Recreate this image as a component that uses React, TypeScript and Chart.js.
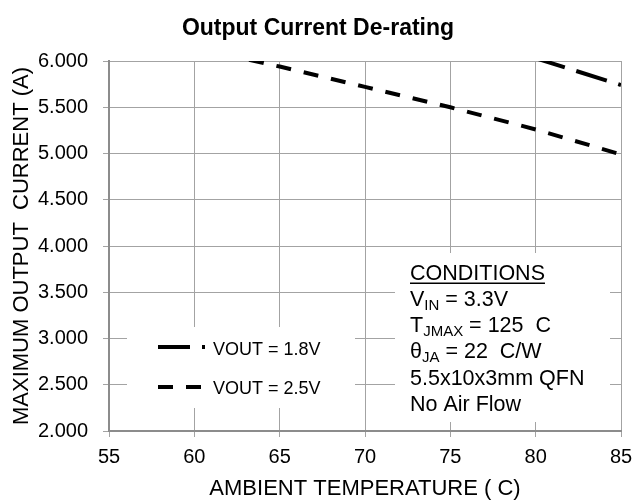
import React, { useEffect, useRef } from 'react';
import { Chart, registerables } from 'chart.js';

Chart.register(...registerables);

// ---- data ----
const temps18 = [75, 80, 85];
const amps18 = [6.32, 6.03, 5.74];
const temps25 = [60, 65, 70, 75, 80, 85];
const amps25 = [6.14, 5.94, 5.72, 5.5, 5.26, 4.99];
const seriesLabels = ['VOUT = 1.8V', 'VOUT = 2.5V'];
const chartTitle = 'Output Current De-rating';
const xTitle = 'AMBIENT TEMPERATURE ( C)';
const yTitle = 'MAXIMUM OUTPUT  CURRENT (A)';
const conditionsHeader = 'CONDITIONS';
const conditionLines: { t: string; sub?: boolean }[][] = [
  [{ t: 'V' }, { t: 'IN', sub: true }, { t: ' = 3.3V' }],
  [{ t: 'T' }, { t: 'JMAX', sub: true }, { t: ' = 125  C' }],
  [{ t: 'θ' }, { t: 'JA', sub: true }, { t: ' = 22  C/W' }],
  [{ t: '5.5x10x3mm QFN' }],
  [{ t: 'No Air Flow' }],
];

const FONT = '"Liberation Sans", Arial, Helvetica, sans-serif';
const dash18 = [32, 12];
const dash25 = [15, 13];

const overlayPlugin = {
  id: 'overlay',
  beforeDatasetsDraw(chart: any) {
    const { ctx, chartArea: a } = chart;
    ctx.save();
    ctx.fillStyle = '#ffffff';
    // legend box
    ctx.fillRect(a.left + 18, 327, 228, 81);
    // conditions box
    ctx.fillRect(395, 253, 215, 169);
    ctx.restore();
  },
  afterDraw(chart: any) {
    const { ctx } = chart;
    ctx.save();
    // legend
    const dashes = [dash18, dash25];
    const ys = [347, 387];
    const tys = [355, 394];
    for (let i = 0; i < 2; i++) {
      ctx.beginPath();
      ctx.setLineDash(dashes[i]);
      ctx.lineWidth = 4;
      ctx.strokeStyle = '#000';
      ctx.moveTo(158, ys[i]);
      ctx.lineTo(205, ys[i]);
      ctx.stroke();
      ctx.setLineDash([]);
      ctx.fillStyle = '#000';
      ctx.font = `18px ${FONT}`;
      ctx.textBaseline = 'alphabetic';
      ctx.textAlign = 'left';
      ctx.fillText(seriesLabels[i], 213, tys[i]);
    }
    // conditions
    const x0 = 410;
    const main = 21.5;
    ctx.font = `${main}px ${FONT}`;
    ctx.fillText(conditionsHeader, x0, 280);
    const w = ctx.measureText(conditionsHeader).width;
    ctx.fillRect(x0, 282.5, w, 1.5);
    let y = 306;
    for (const line of conditionLines) {
      let x = x0;
      for (const seg of line) {
        if (seg.sub) {
          ctx.font = `15px ${FONT}`;
          ctx.fillText(seg.t, x, y + 4);
        } else {
          ctx.font = `${main}px ${FONT}`;
          ctx.fillText(seg.t, x, y);
        }
        x += ctx.measureText(seg.t).width;
      }
      y += 26.2;
    }
    ctx.restore();
  },
};

export default function App() {
  const ref = useRef<HTMLCanvasElement | null>(null);
  useEffect(() => {
    if (!ref.current) return;
    const gridColor = '#a3a3a3';
    const chart = new Chart(ref.current, {
      type: 'line',
      data: {
        datasets: [
          {
            label: seriesLabels[0],
            data: temps18.map((x, i) => ({ x, y: amps18[i] })),
            borderColor: '#000',
            borderWidth: 4,
            borderDash: dash18,
            pointRadius: 0,
            fill: false,
            tension: 0,
          },
          {
            label: seriesLabels[1],
            data: temps25.map((x, i) => ({ x, y: amps25[i] })),
            borderColor: '#000',
            borderWidth: 4,
            borderDash: dash25,
            pointRadius: 0,
            fill: false,
            tension: 0,
          },
        ],
      },
      options: {
        animation: false,
        responsive: false,
        maintainAspectRatio: false,
        layout: { padding: { left: 0, right: 0, top: 0, bottom: 0 } },
        plugins: {
          legend: { display: false },
          tooltip: { enabled: false },
          title: {
            display: true,
            text: chartTitle,
            color: '#000',
            font: { family: FONT, size: 23, weight: 'bold' },
            padding: { top: 15, bottom: 18.4 },
          },
        },
        scales: {
          x: {
            type: 'linear',
            min: 55,
            max: 85,
            ticks: { stepSize: 5, color: '#000', font: { family: FONT, size: 20 }, padding: 8, maxRotation: 0 },
            grid: { color: gridColor, lineWidth: 1, tickLength: 6, tickColor: gridColor },
            border: { color: '#8c8c8c', width: 2 },
            title: {
              display: true,
              text: xTitle,
              color: '#000',
              font: { family: FONT, size: 22, lineHeight: 1 },
              padding: { top: 0, bottom: 0 },
            },
            afterFit: (s: any) => {
              s.height = 69;
              s.paddingLeft = 0;
              s.paddingRight = 15;
            },
          },
          y: {
            min: 2,
            max: 6,
            ticks: {
              stepSize: 0.5,
              color: '#000',
              font: { family: FONT, size: 20 },
              padding: 15,
              callback: (v: any) => Number(v).toFixed(3),
            },
            grid: { color: gridColor, lineWidth: 1, tickLength: 6, tickColor: gridColor },
            border: { color: '#8c8c8c', width: 2 },
            title: {
              display: true,
              text: yTitle,
              color: '#000',
              font: { family: FONT, size: 22, lineHeight: 1.2 },
              padding: { top: 9, bottom: 0 },
            },
            afterFit: (s: any) => {
              s.width = 109;
            },
          },
        },
      },
      plugins: [overlayPlugin],
    });
    return () => chart.destroy();
  }, []);
  return (
    <div style={{ position: 'fixed', left: 0, top: 0, width: 636, height: 500, background: '#fff' }}>
      <canvas ref={ref} width={636} height={500} style={{ width: 636, height: 500, display: 'block' }} />
    </div>
  );
}
